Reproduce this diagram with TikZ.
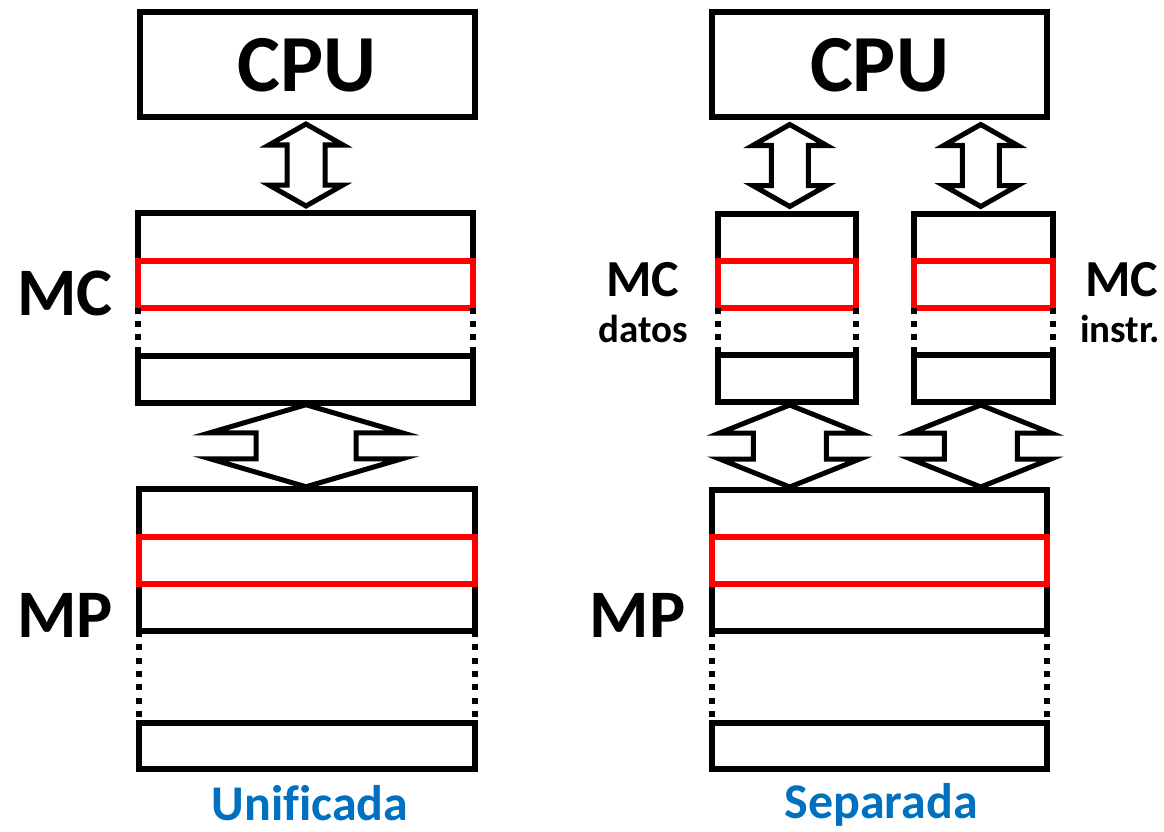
\documentclass[tikz,border=0pt]{standalone}
\usepackage{fontspec}
\setmainfont{Carlito}[Ligatures=NoCommon]
\usetikzlibrary{calc}
\definecolor{myblue}{RGB}{0,112,192}
\definecolor{myred}{RGB}{255,0,0}
\tikzset{
  blk/.style={draw=black, line width=6pt, inner sep=0pt, outer sep=0pt, anchor=north west},
  redbox/.style={draw=myred, line width=6pt, inner sep=0pt, outer sep=0pt, anchor=north west},
  dotline/.style={draw=black, line width=6pt, dash pattern=on 6pt off 7.3pt},
  arrowline/.style={draw=black, line width=5pt, line join=miter},
  cpubox/.style={draw=black, line width=6pt, inner sep=0pt, outer sep=0pt,
    minimum width=335pt, minimum height=104.5pt, font=\fontsize{81}{81}\selectfont\bfseries},
  biglbl/.style={anchor=base, inner sep=0pt, font=\fontsize{68}{68}\selectfont\bfseries},
  midlbl/.style={anchor=base, inner sep=0pt, font=\fontsize{52}{52}\selectfont\bfseries},
  smalllbl/.style={anchor=base, inner sep=0pt, font=\fontsize{39}{39}\selectfont\bfseries},
  titlelbl/.style={anchor=base, inner sep=0pt, text=myblue, font=\fontsize{50}{50}\selectfont\bfseries},
  pics/dblarr/.style n args={4}{code={
    \draw[arrowline] (0,-#1/2) -- (#2,-#1/2+#4) -- (#3,-#1/2+#4) -- (#3,#1/2-#4)
      -- (#2,#1/2-#4) -- (0,#1/2) -- (-#2,#1/2-#4) -- (-#3,#1/2-#4)
      -- (-#3,-#1/2+#4) -- (-#2,-#1/2+#4) -- cycle;
  }}
}
\begin{document}
\begin{tikzpicture}[x=1pt,y=-1pt]
\useasboundingbox (0,0) rectangle (1164,832);

% ---------------- Unificada (left) ----------------
\node[cpubox] (cpuL) at (307,64.75) {CPU};

\node[blk, minimum width=335pt, minimum height=94.5pt] (mcLtop) at (137.5,213) {};
\node[redbox, minimum width=335pt, minimum height=46.5pt] (mcLred) at (137.5,261) {};
\node[blk, minimum width=335pt, minimum height=47pt] (mcLbot) at (137.5,355.5) {};
\draw[dotline] (mcLtop.south west) -- (mcLbot.north west);
\draw[dotline] (mcLtop.south east) -- (mcLbot.north east);

\node[blk, minimum width=336pt, minimum height=142pt] (mpLtop) at (139,489) {};
\node[redbox, minimum width=336pt, minimum height=47pt] (mpLred) at (139,537) {};
\node[blk, minimum width=336pt, minimum height=46.5pt] (mpLbot) at (139,722.5) {};
\draw[dotline] (mpLtop.south west) -- (mpLbot.north west);
\draw[dotline] (mpLtop.south east) -- (mpLbot.north east);

\pic at ($(cpuL.south)!0.5!(mcLtop.north)$) {dblarr={82}{37}{19}{21}};
\pic at ($(mcLbot.south)!0.5!(mpLtop.north)$) {dblarr={82}{96}{50}{28}};

\node[biglbl] (lblMCL) at (65,315) {MC};
\node[biglbl] (lblMPL) at (65,637) {MP};
\node[titlelbl] (lblUni) at (310,820) {Unificada};

% ---------------- Separada (right) ----------------
\node[cpubox] (cpuR) at (879.5,64.75) {CPU};

\node[blk, minimum width=138.5pt, minimum height=93.5pt] (mcDtop) at (717.5,214) {};
\node[redbox, minimum width=138.5pt, minimum height=46.5pt] (mcDred) at (717.5,261) {};
\node[blk, minimum width=138.5pt, minimum height=47pt] (mcDbot) at (717.5,355) {};
\draw[dotline] (mcDtop.south west) -- (mcDbot.north west);
\draw[dotline] (mcDtop.south east) -- (mcDbot.north east);

\node[blk, minimum width=138.5pt, minimum height=93.5pt] (mcItop) at (914,214) {};
\node[redbox, minimum width=138.5pt, minimum height=46.5pt] (mcIred) at (914,261) {};
\node[blk, minimum width=138.5pt, minimum height=47pt] (mcIbot) at (914,355) {};
\draw[dotline] (mcItop.south west) -- (mcIbot.north west);
\draw[dotline] (mcItop.south east) -- (mcIbot.north east);

\node[blk, minimum width=335pt, minimum height=141pt] (mpRtop) at (712,490) {};
\node[redbox, minimum width=335pt, minimum height=47pt] (mpRred) at (712,537) {};
\node[blk, minimum width=335pt, minimum height=46.5pt] (mpRbot) at (712,722.5) {};
\draw[dotline] (mpRtop.south west) -- (mpRbot.north west);
\draw[dotline] (mpRtop.south east) -- (mpRbot.north east);

\pic at ($(mcDtop.north)!0.5!(mcDtop.north |- cpuR.south)+(3,0)$) {dblarr={82}{37}{18.5}{21}};
\pic at ($(mcItop.north)!0.5!(mcItop.north |- cpuR.south)+(-2.5,0)$) {dblarr={82}{37}{18.5}{21}};
\pic at ($(mcDbot.south)!0.5!(mcDbot.south |- mpRtop.north)+(3,0)$) {dblarr={82}{70}{36.5}{28}};
\pic at ($(mcIbot.south)!0.5!(mcIbot.south |- mpRtop.north)+(-2.5,0)$) {dblarr={82}{70}{36.5}{28}};

\node[midlbl] (lblMCD) at (643,296) {MC};
\node[smalllbl] (lblDatos) at (643,342) {datos};
\node[midlbl] (lblMCI) at (1122,296) {MC};
\node[smalllbl] (lblInstr) at (1120,342) {instr.};
\node[biglbl] (lblMPR) at (637.5,637) {MP};
\node[titlelbl] (lblSep) at (881,818) {Separada};
\end{tikzpicture}
\end{document}
